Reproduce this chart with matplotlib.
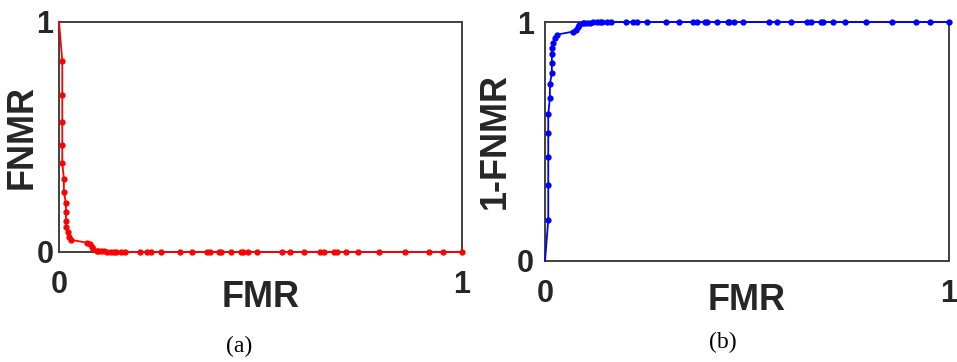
import matplotlib
matplotlib.use('Agg')
from matplotlib import pyplot as plt
import numpy as np

# ROC-style points (same operating points in both panels)
fmr = [0, 0.008, 0.008, 0.008, 0.008, 0.008, 0.012, 0.012, 0.017, 0.017,
       0.017, 0.017, 0.021, 0.025, 0.029, 0.070, 0.077, 0.081, 0.085, 0.094,
       0.097, 0.103, 0.111, 0.120, 0.128, 0.136, 0.142, 0.154, 0.163, 0.201,
       0.219, 0.228, 0.253, 0.299, 0.331, 0.366, 0.375, 0.397, 0.401, 0.426,
       0.452, 0.456, 0.468, 0.491, 0.554, 0.573, 0.608, 0.648, 0.658, 0.683,
       0.689, 0.712, 0.743, 0.795, 0.858, 0.917, 0.952, 1.0]
fnmr = [1.0, 0.830, 0.684, 0.567, 0.465, 0.387, 0.319, 0.260, 0.213, 0.173,
        0.135, 0.107, 0.086, 0.065, 0.053, 0.040, 0.033, 0.023, 0.012, 0.006,
        0.004, 0.003, 0.003, 0.002, 0.002, 0.001, 0.001, 0.0, 0.0, 0.0,
        0.0, 0.0, 0.0, 0.0, 0.0, 0.0, 0.0, 0.0, 0.0, 0.0,
        0.0, 0.0, 0.0, 0.0, 0.0, 0.0, 0.0, 0.0, 0.0, 0.0,
        0.0, 0.0, 0.0, 0.0, 0.0, 0.0, 0.0, 0.0]
tick_labels = ['0', '1']

SANS = 'Liberation Sans'
SERIF = 'Liberation Serif'
SPINE = '#404040'


def style_axes(ax, xpad, ypad):
    ax.set_xlim(0, 1)
    ax.set_ylim(0, 1)
    ax.set_xticks([0, 1])
    ax.set_yticks([0, 1])
    ax.set_xticklabels(tick_labels, fontfamily=SANS, fontweight='bold', fontsize=22, color='#262626')
    ax.set_yticklabels(tick_labels, fontfamily=SANS, fontweight='bold', fontsize=22, color='#262626')
    ax.tick_params(axis='x', length=0, pad=xpad)
    ax.tick_params(axis='y', length=0, pad=ypad)
    for sp in ax.spines.values():
        sp.set_color(SPINE)
        sp.set_linewidth(1.4)


fig = plt.figure(figsize=(9.57, 3.62), dpi=100)

# (a) FNMR vs FMR
ax1 = fig.add_axes([0.0617, 0.3039, 0.4211, 0.6354])
ax1.plot(fmr, fnmr, color='#ff0000', lw=1.3, marker='o', ms=3.5,
         markevery=slice(1, None), clip_on=False, zorder=5)
style_axes(ax1, 13, 4)
ax1.set_xlabel('FMR', fontfamily=SANS, fontweight='bold', fontsize=26, color='#262626', va='center')
ax1.xaxis.set_label_coords(0.5, -0.2)
ax1.set_ylabel('FNMR', fontfamily=SANS, fontweight='bold', fontsize=26, color='#262626', va='center')
ax1.yaxis.set_label_coords(-0.092, 0.5)

# (b) 1-FNMR vs FMR
ax2 = fig.add_axes([0.5695, 0.2798, 0.4222, 0.6594])
ax2.plot(fmr, 1 - np.array(fnmr), color='#0000ff', lw=1.3, marker='o', ms=3.5,
         markevery=slice(1, None), clip_on=False, zorder=5)
style_axes(ax2, 13, 8)
ax2.set_xlabel('FMR', fontfamily=SANS, fontweight='bold', fontsize=26, color='#262626', va='center')
ax2.xaxis.set_label_coords(0.5, -0.165)
ax2.set_ylabel('1-FNMR', fontfamily=SANS, fontweight='bold', fontsize=26, color='#262626', va='center')
ax2.yaxis.set_label_coords(-0.124, 0.5)

fig.text(239 / 957, 1 - 346 / 362, '(a)', fontfamily=SERIF, fontsize=17, ha='center', va='center')
fig.text(723 / 957, 1 - 342 / 362, '(b)', fontfamily=SERIF, fontsize=17, ha='center', va='center')

plt.savefig('out.png', dpi=100)
